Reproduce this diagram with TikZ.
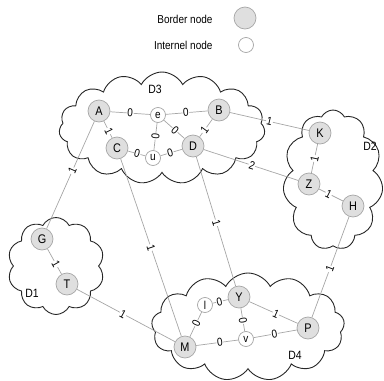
\documentclass[tikz,border=0pt]{standalone}
\usepackage{fontspec}
\setmainfont{Liberation Sans}
\newfontfamily\narrowsans[FakeStretch=0.87]{Liberation Sans}
\usetikzlibrary{shapes.symbols}

\begin{document}
\begin{tikzpicture}[x=1pt,y=-1pt,
  border/.style={circle, draw=gray!70, fill=gray!25, line width=0.7pt,
    minimum size=22pt, inner sep=0pt, font=\narrowsans\fontsize{12.5}{13}\selectfont},
  internal/.style={circle, draw=gray!70, fill=white, line width=0.7pt,
    minimum size=15pt, inner sep=0pt, font=\narrowsans\fontsize{11.5}{12}\selectfont},
  link/.style={draw=gray!70, line width=0.7pt},
  cost/.style={fill=white, inner sep=0.6pt, sloped, font=\narrowsans\fontsize{11.5}{12}\selectfont},
  region/.style={cloud, draw=black!85, line width=0.9pt, cloud ignores aspect,
    inner sep=0pt, cloud puff arc=125},
  dlabel/.style={font=\narrowsans\fontsize{12}{13}\selectfont},
  legend/.style={anchor=east, font=\narrowsans\fontsize{11.5}{12}\selectfont}
]
\useasboundingbox (0,0) rectangle (384,381);

% domains
\node[region, cloud puffs=15, minimum width=206pt, minimum height=112pt] (d3) at (162,128) {};
\node[region, cloud puffs=11, minimum width=100pt, minimum height=140pt] (d2) at (333,180) {};
\node[region, cloud puffs=10, minimum width=97pt, minimum height=97pt] (d1) at (56,266) {};
\node[region, cloud puffs=13, minimum width=193pt, minimum height=108pt] (d4) at (248,327) {};

\node[dlabel] (ld3) at (155,89) {D3};
\node[dlabel] (ld2) at (370,146) {D2};
\node[dlabel] (ld1) at (32,293) {D1};
\node[dlabel] (ld4) at (295,355) {D4};

% legend
\node[legend] (lb) at (216,19) {Border node};
\node[legend] (li) at (216,45) {Internel node};
\node[border] (kb) at (245,18) {};
\node[internal] (ki) at (246,45) {};

% routers
\node[border] (A) at (99,111) {A};
\node[internal] (e) at (158,115) {e};
\node[border] (B) at (219,110) {B};
\node[border] (C) at (117,148) {C};
\node[internal] (u) at (153,158) {u};
\node[border] (D) at (193,146) {D};
\node[border] (K) at (320,133) {K};
\node[border] (Z) at (309,184) {Z};
\node[border] (H) at (353,206) {H};
\node[border] (G) at (42,239) {G};
\node[border] (T) at (67,284) {T};
\node[border] (M) at (185,347) {M};
\node[internal] (l) at (205,305) {l};
\node[border] (Y) at (239,297) {Y};
\node[internal] (v) at (246,339) {v};
\node[border] (P) at (308,328) {P};

% links with costs
\path[link] (A) -- node[cost, pos=0.5] {0} (e);
\path[link] (e) -- node[cost, pos=0.48] {0} (B);
\path[link] (e) -- node[cost, pos=0.54] {0} (D);
\path[link] (e) -- node[cost, pos=0.49] {0} (u);
\path[link] (A) -- node[cost, pos=0.6] {1} (C);
\path[link] (C) -- node[cost, pos=0.53] {0} (u);
\path[link] (u) -- node[cost, pos=0.45] {0} (D);
\path[link] (B) -- node[cost, pos=0.62] {1} (D);
\path[link] (B) -- node[cost, pos=0.5] {1} (K);
\path[link] (D) -- node[cost, pos=0.51] {2} (Z);
\path[link] (K) -- node[cost, pos=0.5] {1} (Z);
\path[link] (Z) -- node[cost, pos=0.4] {1} (H);
\path[link] (A) -- node[cost, pos=0.46] {1} (G);
\path[link] (G) -- node[cost, pos=0.6] {1} (T);
\path[link] (T) -- node[cost, pos=0.47] {1} (M);
\path[link] (C) -- node[cost, pos=0.5] {1} (M);
\path[link] (D) -- node[cost, pos=0.51] {1} (Y);
\path[link] (H) -- node[cost, pos=0.52] {1} (P);
\path[link] (M) -- node[cost, pos=0.55] {0} (l);
\path[link] (l) -- node[cost, pos=0.45] {0} (Y);
\path[link] (Y) -- node[cost, pos=0.53] {0} (v);
\path[link] (Y) -- node[cost, pos=0.55] {1} (P);
\path[link] (M) -- node[cost, pos=0.56] {0} (v);
\path[link] (v) -- node[cost, pos=0.48] {0} (P);
\end{tikzpicture}
\end{document}
